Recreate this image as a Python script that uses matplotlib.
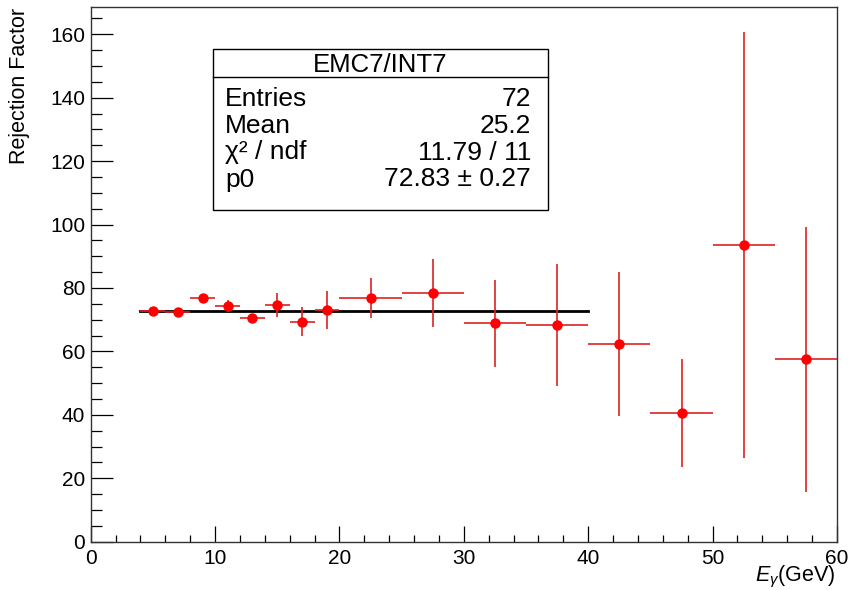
#!/usr/bin/env python3
"""Rejection factor vs photon energy, EMC7/INT7, with constant fit (ROOT style)."""

import matplotlib

matplotlib.use("Agg")
import matplotlib.pyplot as plt
import numpy as np
from matplotlib.patches import Rectangle
from matplotlib.ticker import MultipleLocator

plt.rcParams["font.family"] = ["Liberation Sans", "DejaVu Sans"]
plt.rcParams["mathtext.fontset"] = "custom"
plt.rcParams["mathtext.rm"] = "Liberation Sans"
plt.rcParams["mathtext.it"] = "Liberation Sans:italic"

# bin edges in E_gamma (GeV)
bin_edges = [4, 6, 8, 10, 12, 14, 16, 18, 20, 25, 30, 35, 40, 45, 50, 55, 60]
rejection = [72.8, 72.3, 76.8, 74.3, 70.4, 74.6, 69.4, 73.2,
             76.8, 78.3, 68.8, 68.3, 62.3, 40.5, 93.6, 57.5]
rej_err = [1.0, 0.8, 1.0, 2.0, 1.5, 3.7, 4.5, 6.0,
           6.3, 10.7, 13.6, 19.2, 22.6, 17.0, 67.2, 41.8]

# pol0 fit
fit_p0 = 72.83
fit_range = [4, 40]

stats_title = "EMC7/INT7"
stats_rows = [
    ("Entries", "72"),
    ("Mean", "25.2"),
    ("\u03c7\u00b2 / ndf", "11.79 / 11"),
    ("p0", "72.83 \u00b1 0.27"),
]

W, H = 850, 590
fig = plt.figure(figsize=(W / 100, H / 100), dpi=100)
ax = fig.add_axes([90.7 / W, 1 - 541.7 / H, (837 - 90.7) / W, (541.7 - 7.3) / H])

edges = np.array(bin_edges, dtype=float)
centers = 0.5 * (edges[:-1] + edges[1:])
half_w = 0.5 * (edges[1:] - edges[:-1])

ax.errorbar(centers, rejection, xerr=half_w, yerr=rej_err, fmt="o",
            color="red", ecolor="#dd2222", elinewidth=1.2, capsize=0,
            markersize=6.5, zorder=3)
ax.plot(fit_range, [fit_p0, fit_p0], color="black", lw=2.0, zorder=2)

ax.set_xlim(0, 60)
ax.set_ylim(0, 168.5)
ax.xaxis.set_major_locator(MultipleLocator(10))
ax.xaxis.set_minor_locator(MultipleLocator(2))
ax.yaxis.set_major_locator(MultipleLocator(20))
ax.yaxis.set_minor_locator(MultipleLocator(5))
ax.tick_params(axis="both", which="both", direction="in", top=False, right=False,
               labelsize=15, width=0.9, colors="black")
ax.tick_params(axis="x", which="major", length=11.3, pad=5)
ax.tick_params(axis="x", which="minor", length=5.3)
ax.tick_params(axis="y", which="major", length=15.6, pad=4)
ax.tick_params(axis="y", which="minor", length=7.9)
for sp in ax.spines.values():
    sp.set_linewidth(1.0)
    sp.set_color("#333333")

fig.text(20 / W, 1 - 8 / H, "Rejection Factor", rotation=90,
         ha="center", va="top", fontsize=15.5)
fig.text(835 / W, 1 - 577 / H, r"$E_{\gamma}$(GeV)", ha="right", va="center",
         fontsize=15.5)

# stats box
bx0, bx1 = 213 / W, 548 / W
by_top, by_bot = 1 - 49 / H, 1 - 210 / H
fig.patches.append(Rectangle((bx0, by_bot), bx1 - bx0, by_top - by_bot,
                             transform=fig.transFigure, facecolor="white",
                             edgecolor="black", lw=1.0, zorder=5))
fig.lines.append(plt.Line2D([bx0, bx1], [1 - 77 / H, 1 - 77 / H],
                            transform=fig.transFigure, color="black", lw=1.0,
                            zorder=6))
fig.text((bx0 + bx1) / 2, 1 - 65 / H, stats_title, ha="center", va="center",
         fontsize=18.5, zorder=7)
baselines = [105.5, 132.5, 159.5, 186.5]
for (name, val), b in zip(stats_rows, baselines):
    fig.text(225 / W, 1 - b / H, name, ha="left", va="baseline",
             fontsize=19, zorder=7)
    fig.text(531 / W, 1 - b / H, val, ha="right", va="baseline",
             fontsize=19, zorder=7)

fig.savefig("out.png", dpi=100)
